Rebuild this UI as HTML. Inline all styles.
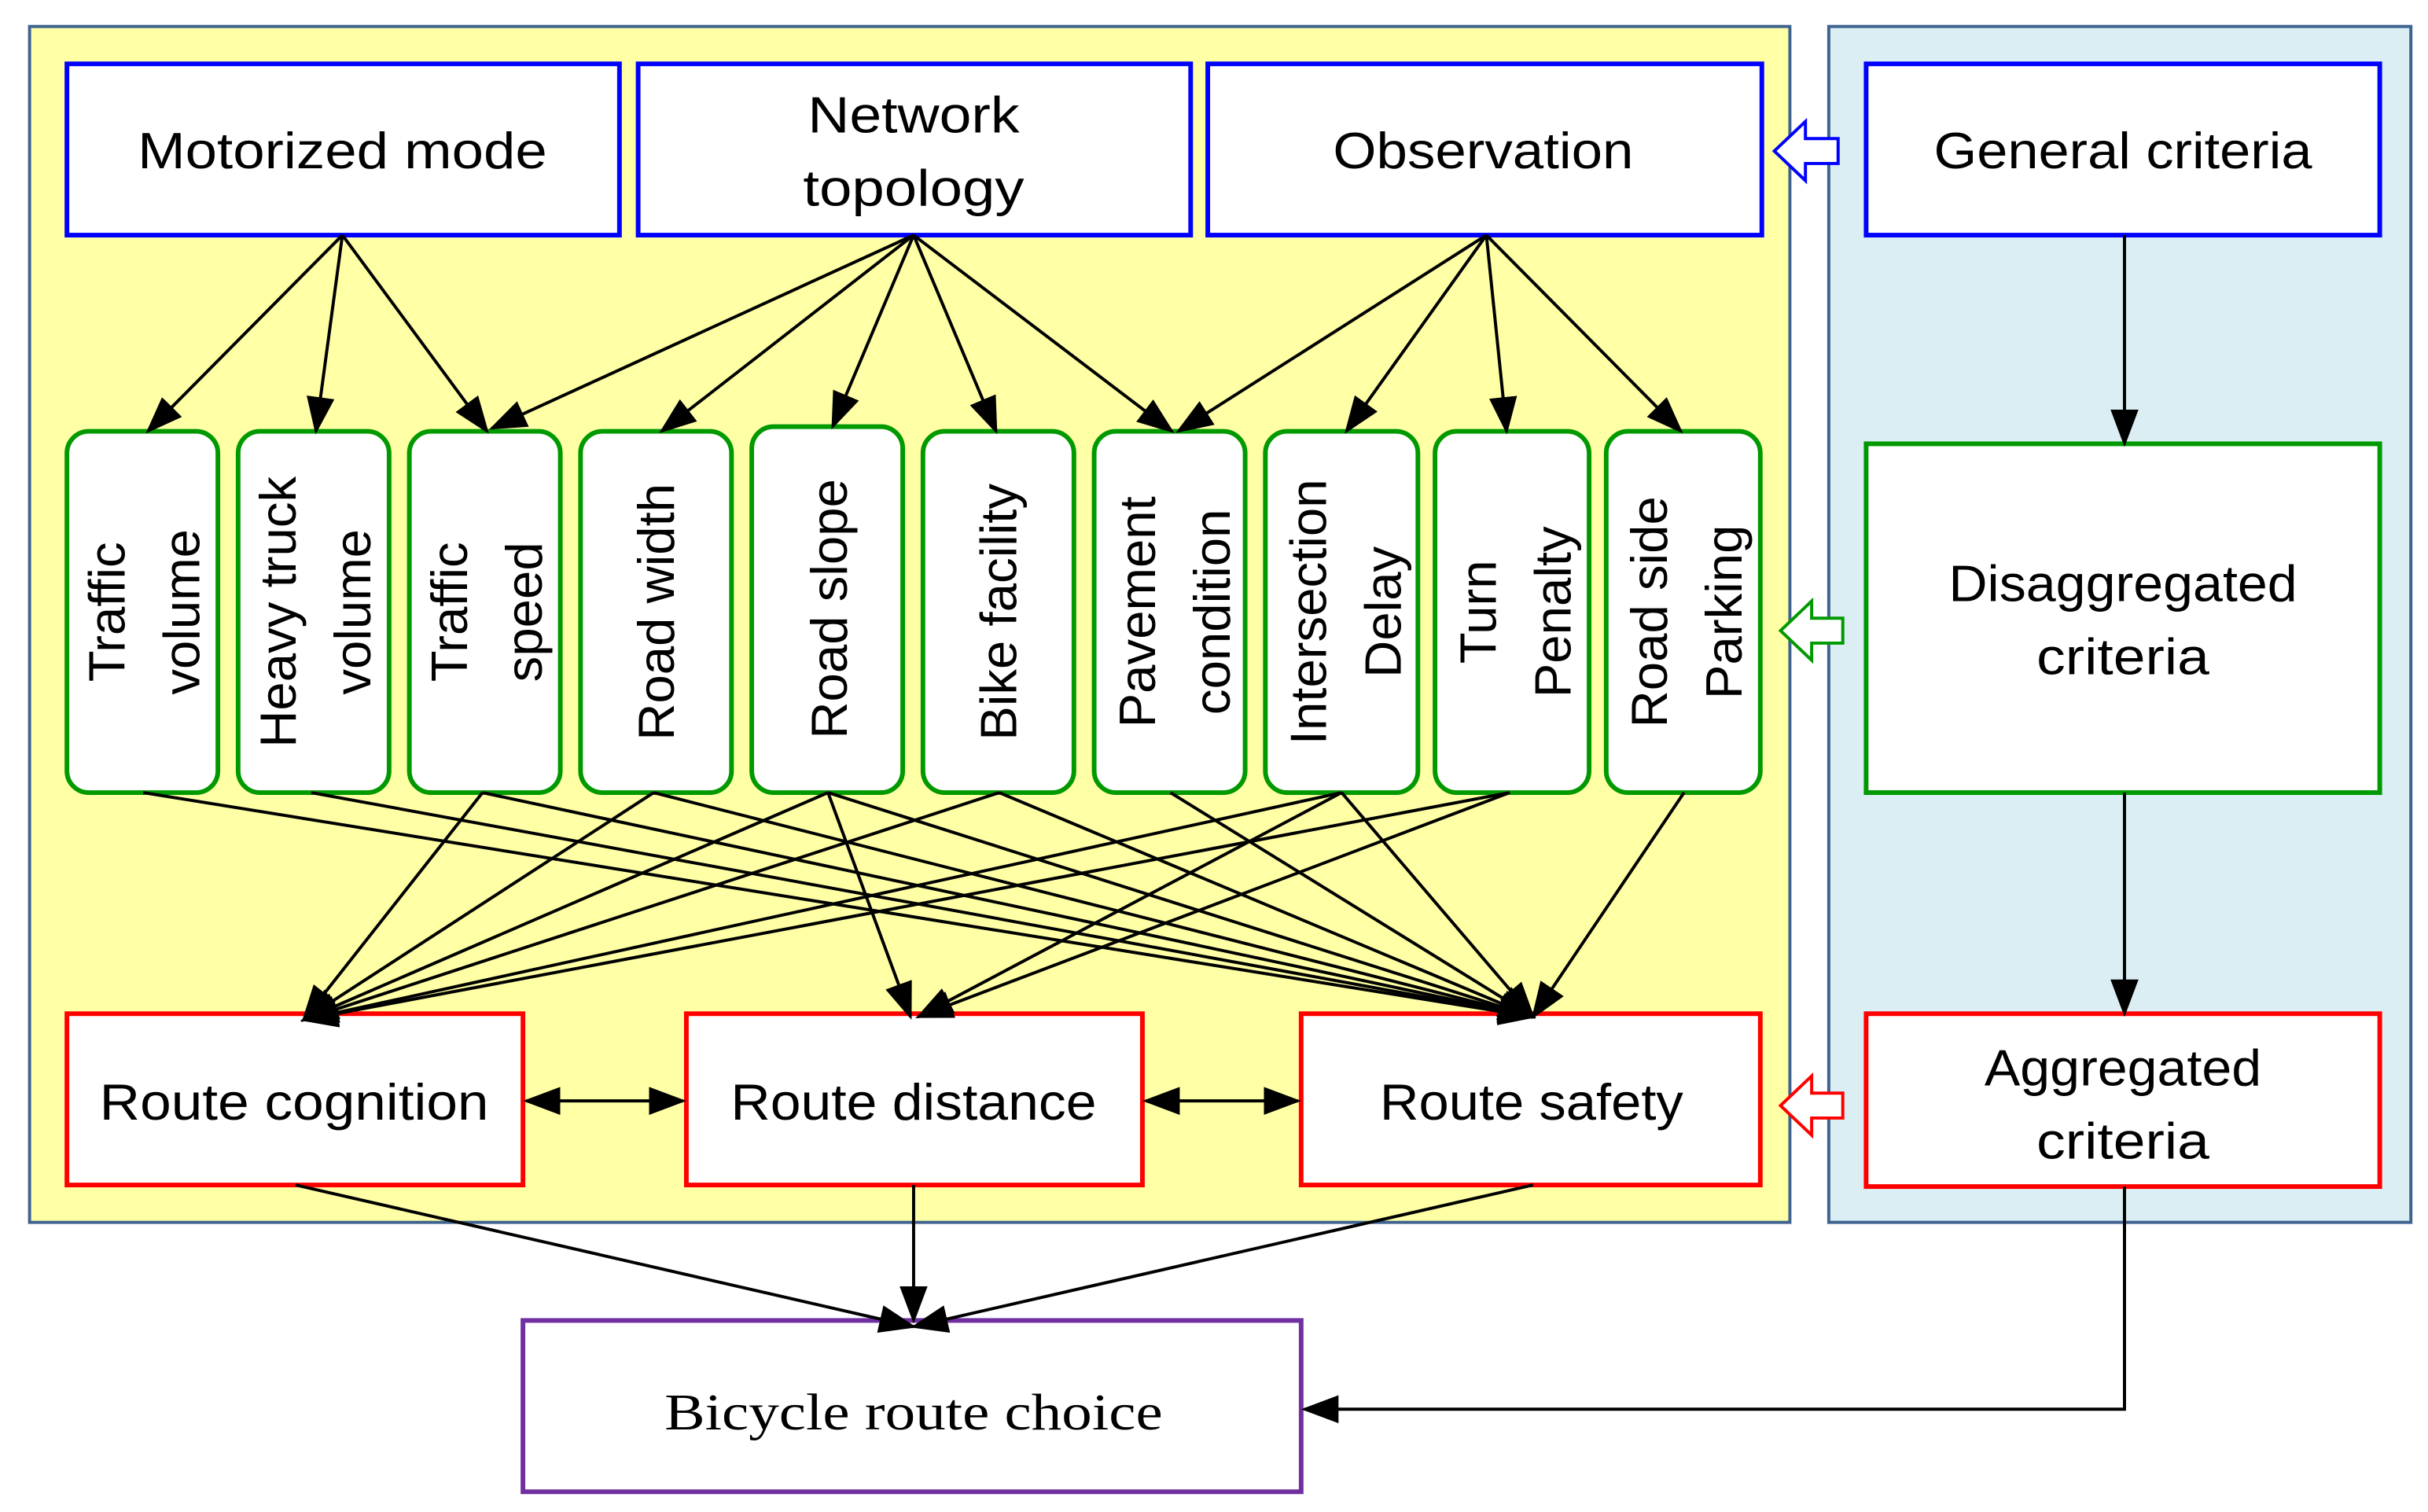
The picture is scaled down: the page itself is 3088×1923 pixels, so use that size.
<!DOCTYPE html>
<html><head><meta charset="utf-8"><style>html,body{margin:0;padding:0;background:#fff}svg{display:block}</style></head>
<body>
<svg width="3088" height="1923" viewBox="0 0 1560 971" preserveAspectRatio="none" xmlns="http://www.w3.org/2000/svg" font-family="Liberation Sans, sans-serif">
<defs>
<marker id="a" markerUnits="userSpaceOnUse" markerWidth="24" markerHeight="18" refX="22" refY="9" orient="auto-start-reverse" viewBox="0 0 24 18"><path d="M0,0 L24,9 L0,18 Z" fill="#000"/></marker>
</defs>
<rect x="19" y="17" width="1131" height="768" fill="#ffffa6" stroke="#3f6391" stroke-width="2"/>
<rect x="1175" y="17" width="374" height="768" fill="#daeef3" stroke="#3f6391" stroke-width="2"/>

<g fill="#fff" stroke="#0000ff" stroke-width="3">
<rect x="43" y="41" width="355" height="110"/><rect x="410" y="41" width="355" height="110"/>
<rect x="776" y="41" width="356" height="110"/><rect x="1199" y="41" width="330" height="110"/>
</g>
<g fill="#fff" stroke="#009900" stroke-width="3">
<rect x="43" y="277" width="97" height="232" rx="14"/><rect x="153" y="277" width="97" height="232" rx="14"/>
<rect x="263" y="277" width="97" height="232" rx="14"/><rect x="373" y="277" width="97" height="232" rx="14"/>
<rect x="483" y="274" width="97" height="235" rx="14"/><rect x="593" y="277" width="97" height="232" rx="14"/>
<rect x="703" y="277" width="97" height="232" rx="14"/><rect x="813" y="277" width="98" height="232" rx="14"/>
<rect x="922" y="277" width="99" height="232" rx="14"/><rect x="1032" y="277" width="99" height="232" rx="14"/>
<rect x="1199" y="285" width="330" height="224"/>
</g>
<g fill="#fff" stroke="#ff0000" stroke-width="3">
<rect x="43" y="651" width="293" height="110"/><rect x="441" y="651" width="293" height="110"/>
<rect x="836" y="651" width="295" height="110"/><rect x="1199" y="651" width="330" height="111"/>
</g>
<rect x="336" y="848" width="500" height="110" fill="#fff" stroke="#7030a0" stroke-width="3"/>

<path d="M1140,97 L1160,78 L1160,89 L1181,89 L1181,105 L1160,105 L1160,116 Z" fill="#fff" stroke="#0000ff" stroke-width="2"/>
<path d="M1144,405 L1164,386 L1164,397 L1184,397 L1184,413 L1164,413 L1164,424 Z" fill="#fff" stroke="#009900" stroke-width="2"/>
<path d="M1144,710 L1164,691 L1164,702 L1184,702 L1184,718 L1164,718 L1164,729 Z" fill="#fff" stroke="#ff0000" stroke-width="2"/>

<g stroke="#000" stroke-width="2" fill="none" marker-end="url(#a)">
<line x1="220" y1="151" x2="95" y2="277"/><line x1="220" y1="151" x2="203" y2="277"/><line x1="220" y1="151" x2="313" y2="277"/>
<line x1="587" y1="151" x2="316" y2="275"/><line x1="587" y1="151" x2="425" y2="277"/><line x1="587" y1="151" x2="535" y2="274"/>
<line x1="587" y1="151" x2="640" y2="277"/><line x1="587" y1="151" x2="753" y2="277"/>
<line x1="955" y1="151" x2="757" y2="277"/><line x1="955" y1="151" x2="865" y2="277"/><line x1="955" y1="151" x2="968" y2="277"/><line x1="955" y1="151" x2="1080" y2="277"/>
<line x1="1365" y1="151" x2="1365" y2="285"/><line x1="1365" y1="509" x2="1365" y2="651"/>
<polyline points="1365,762 1365,905 838,905"/>
<line x1="92" y1="509" x2="985" y2="653"/><line x1="200" y1="509" x2="985" y2="653"/><line x1="310" y1="509" x2="985" y2="653"/>
<line x1="420" y1="509" x2="985" y2="653"/><line x1="532" y1="509" x2="985" y2="653"/><line x1="642" y1="509" x2="985" y2="653"/>
<line x1="752" y1="509" x2="985" y2="653"/><line x1="862" y1="509" x2="985" y2="653"/><line x1="1082" y1="509" x2="985" y2="653"/>
<line x1="310" y1="509" x2="195" y2="655"/><line x1="420" y1="509" x2="195" y2="655"/><line x1="532" y1="509" x2="195" y2="655"/>
<line x1="642" y1="509" x2="195" y2="655"/><line x1="862" y1="509" x2="195" y2="655"/><line x1="970" y1="509" x2="195" y2="655"/>
<line x1="532" y1="509" x2="585" y2="653"/><line x1="862" y1="509" x2="590" y2="653"/><line x1="970" y1="509" x2="590" y2="653"/>
<line x1="190" y1="761" x2="587" y2="852"/><line x1="587" y1="761" x2="587" y2="848"/><line x1="985" y1="761" x2="587" y2="852"/>
<line x1="338" y1="707" x2="439" y2="707" marker-start="url(#a)"/><line x1="736" y1="707" x2="834" y2="707" marker-start="url(#a)"/>
</g>

<g font-size="33" fill="#000" text-anchor="middle">
<text x="220" y="108" textLength="263" lengthAdjust="spacingAndGlyphs">Motorized mode</text>
<text x="587" y="85" textLength="136" lengthAdjust="spacingAndGlyphs">Network</text>
<text x="587" y="132" textLength="142" lengthAdjust="spacingAndGlyphs">topology</text>
<text x="953" y="108" textLength="193" lengthAdjust="spacingAndGlyphs">Observation</text>
<text x="1364" y="108" textLength="243" lengthAdjust="spacingAndGlyphs">General criteria</text>
<text x="1364" y="386" textLength="224" lengthAdjust="spacingAndGlyphs">Disaggregated</text>
<text x="1364" y="433" textLength="111" lengthAdjust="spacingAndGlyphs">criteria</text>
<text x="1364" y="697" textLength="178" lengthAdjust="spacingAndGlyphs">Aggregated</text>
<text x="1364" y="744" textLength="111" lengthAdjust="spacingAndGlyphs">criteria</text>
<text x="189" y="719" textLength="250" lengthAdjust="spacingAndGlyphs">Route cognition</text>
<text x="587" y="719" textLength="235" lengthAdjust="spacingAndGlyphs">Route distance</text>
<text x="984" y="719" textLength="195" lengthAdjust="spacingAndGlyphs">Route safety</text>
<text x="587" y="918" font-family="Liberation Serif, serif" textLength="320" lengthAdjust="spacingAndGlyphs">Bicycle route choice</text>
</g>
<g font-size="33" fill="#000" text-anchor="middle">
<text transform="translate(80,393) rotate(-90)">Traffic</text><text transform="translate(128,393) rotate(-90)">volume</text>
<text transform="translate(190,393) rotate(-90)">Heavy truck</text><text transform="translate(238,393) rotate(-90)">volume</text>
<text transform="translate(300,393) rotate(-90)">Traffic</text><text transform="translate(348,393) rotate(-90)">speed</text>
<text transform="translate(433,393) rotate(-90)">Road width</text>
<text transform="translate(544,391) rotate(-90)">Road slope</text>
<text transform="translate(653,393) rotate(-90)">Bike facility</text>
<text transform="translate(742,393) rotate(-90)">Pavement</text><text transform="translate(790,393) rotate(-90)">condition</text>
<text transform="translate(852,393) rotate(-90)">Intersection</text><text transform="translate(900,393) rotate(-90)">Delay</text>
<text transform="translate(961,393) rotate(-90)">Turn</text><text transform="translate(1009,393) rotate(-90)">Penalty</text>
<text transform="translate(1071,393) rotate(-90)">Road side</text><text transform="translate(1119,393) rotate(-90)">Parking</text>
</g>
</svg>
</body></html>
